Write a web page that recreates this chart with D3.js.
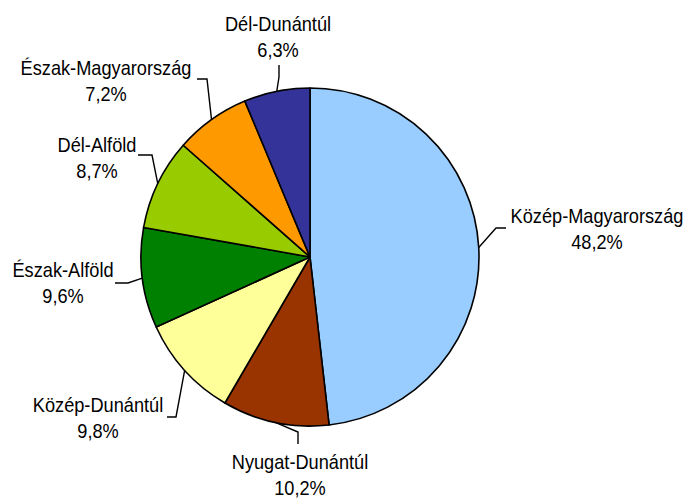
<!DOCTYPE html>
<html>
<head>
<meta charset="utf-8">
<script src="https://cdn.jsdelivr.net/npm/d3@7"></script>
<style>
  body { margin: 0; background: #fff; }
  text { font-family: "Liberation Sans", Arial, sans-serif; }
</style>
</head>
<body>
<div id="vis"></div>
<script>
const regions = ["Közép-Magyarország", "Nyugat-Dunántúl", "Közép-Dunántúl", "Észak-Alföld", "Dél-Alföld", "Észak-Magyarország", "Dél-Dunántúl"];
const shares = [48.2, 10.2, 9.8, 9.6, 8.7, 7.2, 6.3];
const colors = ["#99ccff", "#993300", "#ffff99", "#008000", "#99cc00", "#ff9900", "#333399"];

// label placement: text centre/baseline, start of leader near text, elbow
const labelLayout = [
  { tx: 597, ty: 223, start: [506, 228], elbow: [496, 228] },
  { tx: 300, ty: 469, start: [298, 444], elbow: [298, 432] },
  { tx: 98,  ty: 412, start: [167, 417], elbow: [176, 417] },
  { tx: 63,  ty: 277, start: [115, 283], elbow: [128, 283] },
  { tx: 97,  ty: 152, start: [138, 155], elbow: [152, 155] },
  { tx: 106, ty: 75,  start: [197, 79],  elbow: [207, 79] },
  { tx: 278, ty: 31,  start: [279, 65],  elbow: [279, 77] }
];

const width = 686, height = 499;
const cx = 310, cy = 257, r = 169;

const svg = d3.select("#vis")
  .append("svg")
  .attr("width", width)
  .attr("height", height);

const data = regions.map((name, i) => ({ name, value: shares[i], color: colors[i], layout: labelLayout[i] }));

const pie = d3.pie()
  .sort(null)
  .value(d => d.value);

const arc = d3.arc()
  .innerRadius(0)
  .outerRadius(r);

const arcs = pie(data);

const g = svg.append("g")
  .attr("transform", `translate(${cx},${cy})`);

g.selectAll("path")
  .data(arcs)
  .enter()
  .append("path")
  .attr("d", arc)
  .attr("fill", d => d.data.color)
  .attr("stroke", "#000")
  .attr("stroke-width", 1.6)
  .attr("stroke-linejoin", "round");

// leader lines to the edge midpoint of each slice
arcs.forEach(d => {
  const mid = (d.startAngle + d.endAngle) / 2;
  const edge = [cx + r * Math.sin(mid), cy - r * Math.cos(mid)];
  const L = d.data.layout;
  svg.append("polyline")
    .attr("points", [L.start, L.elbow, edge].map(p => p.join(",")).join(" "))
    .attr("fill", "none")
    .attr("stroke", "#000")
    .attr("stroke-width", 1.4);
});

const fmt = v => v.toFixed(1).replace(".", ",") + "%";

const labels = svg.selectAll(".label")
  .data(data)
  .enter()
  .append("text")
  .attr("class", "label")
  .attr("transform", d => `translate(${d.layout.tx},${d.layout.ty}) scale(0.91,1)`)
  .attr("text-anchor", "middle")
  .attr("font-size", 20)
  .attr("fill", "#000");

labels.append("tspan")
  .attr("x", 0)
  .attr("y", 0)
  .text(d => d.name);

labels.append("tspan")
  .attr("x", 0)
  .attr("y", 26)
  .text(d => fmt(d.value));
</script>
</body>
</html>
